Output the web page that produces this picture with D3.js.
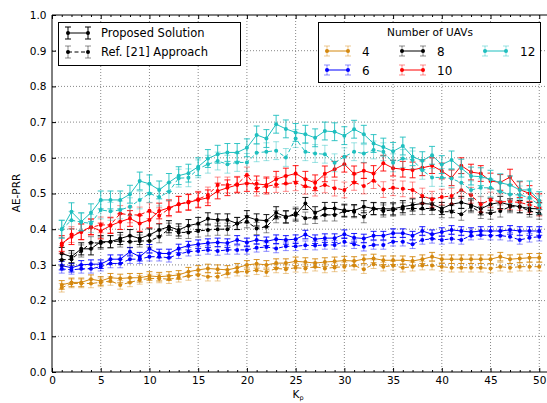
<!DOCTYPE html>
<meta charset="utf-8">
<style>
body { margin: 0; background: #fff; }
svg text { font-family: "DejaVu Sans", sans-serif; fill: #000; }
.grid line { stroke: #888; stroke-dasharray: 1,2; stroke-width: 1; }
.tick line { stroke: #000; }
</style>
<svg width="547" height="403"></svg>
<script src="https://d3js.org/d3.v7.min.js"></script>
<script>
// K_p values on the x axis
var kp = d3.range(1, 51);

var uavCounts = [4, 6, 8, 10, 12];
var colors = ["#d4880f", "#0000ff", "#000000", "#ff0000", "#1fbfbf"];

// AE-PRR, proposed solution (solid) and Ref. [21] (dashed)
var prop4 = [0.244,0.251,0.251,0.260,0.255,0.264,0.262,0.264,0.264,0.269,
  0.267,0.269,0.272,0.281,0.286,0.290,0.288,0.286,0.292,0.300,
  0.303,0.300,0.305,0.305,0.310,0.308,0.305,0.308,0.310,0.312,
  0.311,0.316,0.318,0.313,0.313,0.313,0.311,0.316,0.323,0.316,
  0.316,0.316,0.316,0.316,0.316,0.323,0.316,0.318,0.320,0.320];
var ref4 = [0.236,0.248,0.248,0.248,0.251,0.255,0.244,0.251,0.258,0.262,
  0.262,0.260,0.264,0.269,0.272,0.267,0.267,0.276,0.281,0.281,
  0.285,0.280,0.290,0.288,0.292,0.290,0.295,0.290,0.293,0.295,
  0.298,0.288,0.302,0.295,0.298,0.292,0.295,0.298,0.298,0.295,
  0.292,0.292,0.292,0.292,0.290,0.295,0.292,0.295,0.295,0.295];

var prop6 = [0.298,0.292,0.300,0.302,0.302,0.316,0.316,0.337,0.323,0.345,
  0.332,0.332,0.346,0.354,0.358,0.361,0.363,0.361,0.370,0.363,
  0.370,0.366,0.372,0.370,0.372,0.385,0.372,0.375,0.375,0.386,
  0.376,0.374,0.382,0.382,0.389,0.389,0.382,0.395,0.386,0.392,
  0.398,0.395,0.392,0.395,0.395,0.395,0.398,0.395,0.395,0.395];
var ref6 = [0.289,0.286,0.289,0.289,0.295,0.304,0.304,0.316,0.316,0.323,
  0.323,0.320,0.330,0.337,0.339,0.342,0.339,0.342,0.342,0.342,
  0.348,0.350,0.346,0.352,0.352,0.355,0.354,0.356,0.356,0.365,
  0.358,0.351,0.356,0.356,0.365,0.365,0.358,0.370,0.373,0.370,
  0.373,0.370,0.382,0.384,0.382,0.382,0.379,0.370,0.376,0.379];

var prop8 = [0.332,0.323,0.345,0.345,0.365,0.365,0.374,0.382,0.374,0.384,
  0.398,0.407,0.398,0.410,0.416,0.429,0.426,0.426,0.416,0.435,
  0.426,0.424,0.446,0.435,0.440,0.472,0.446,0.458,0.458,0.453,
  0.452,0.463,0.458,0.457,0.457,0.463,0.468,0.472,0.470,0.458,
  0.470,0.475,0.468,0.457,0.470,0.475,0.468,0.463,0.458,0.457];
var ref8 = [0.314,0.316,0.339,0.362,0.361,0.365,0.367,0.365,0.367,0.367,
  0.379,0.400,0.391,0.391,0.395,0.398,0.400,0.400,0.416,0.421,
  0.402,0.407,0.435,0.433,0.445,0.431,0.433,0.440,0.440,0.450,
  0.449,0.435,0.457,0.451,0.454,0.457,0.458,0.458,0.458,0.449,
  0.449,0.442,0.463,0.447,0.445,0.451,0.463,0.463,0.451,0.445];

var prop10 = [0.360,0.379,0.393,0.407,0.395,0.410,0.421,0.430,0.416,0.426,
  0.451,0.460,0.470,0.475,0.482,0.488,0.507,0.516,0.524,0.528,
  0.527,0.524,0.540,0.549,0.556,0.540,0.530,0.555,0.568,0.582,
  0.555,0.564,0.556,0.585,0.571,0.568,0.566,0.572,0.578,0.563,
  0.544,0.578,0.560,0.556,0.535,0.531,0.546,0.511,0.500,0.477];
var ref10 = [0.355,0.385,0.392,0.405,0.412,0.412,0.444,0.440,0.440,0.452,
  0.438,0.457,0.470,0.477,0.484,0.496,0.524,0.524,0.526,0.552,
  0.515,0.520,0.525,0.528,0.530,0.520,0.515,0.524,0.515,0.510,
  0.531,0.521,0.536,0.511,0.516,0.513,0.510,0.493,0.484,0.490,
  0.493,0.509,0.495,0.470,0.482,0.477,0.477,0.475,0.468,0.459];

var prop12 = [0.400,0.449,0.421,0.446,0.482,0.482,0.482,0.498,0.535,0.527,
  0.510,0.531,0.550,0.557,0.575,0.598,0.610,0.615,0.615,0.628,
  0.664,0.654,0.694,0.681,0.671,0.666,0.656,0.675,0.673,0.662,
  0.680,0.666,0.640,0.630,0.618,0.633,0.603,0.592,0.607,0.581,
  0.594,0.571,0.549,0.547,0.540,0.530,0.524,0.510,0.510,0.480];
var ref12 = [0.400,0.425,0.420,0.416,0.454,0.450,0.454,0.463,0.482,0.500,
  0.490,0.505,0.543,0.544,0.569,0.582,0.591,0.582,0.587,0.587,
  0.614,0.617,0.620,0.601,0.654,0.617,0.612,0.610,0.586,0.603,
  0.617,0.612,0.622,0.617,0.586,0.598,0.594,0.565,0.545,0.545,
  0.542,0.530,0.510,0.516,0.516,0.505,0.497,0.496,0.488,0.468];

// error bar half-width per number of UAVs
var errHalf = [0.012, 0.012, 0.017, 0.022, 0.025];

var proposed = [prop4, prop6, prop8, prop10, prop12];
var reference = [ref4, ref6, ref8, ref10, ref12];

var svg = d3.select("svg");
var pLeft = 52, pRight = 549, pTop = 15, pBottom = 372;

var x = d3.scaleLinear().domain([0, 51]).range([pLeft, pRight]);
var y = d3.scaleLinear().domain([0, 1]).range([pBottom, pTop]);

// grid
var grid = svg.append("g").attr("class", "grid");
grid.selectAll(".gx").data(d3.range(5, 51, 5)).enter().append("line")
  .attr("x1", d => x(d)).attr("x2", d => x(d)).attr("y1", pTop).attr("y2", pBottom);
grid.selectAll(".gy").data(d3.range(1, 10).map(d => d / 10)).enter().append("line")
  .attr("x1", pLeft).attr("x2", pRight).attr("y1", d => y(d)).attr("y2", d => y(d));

// axes
var minorVals = d3.range(0, 52).filter(d => d % 5);
svg.append("g").attr("transform", "translate(0," + pBottom + ")")
  .call(d3.axisBottom(x).tickValues(d3.range(0, 51, 5)).tickSize(-4).tickPadding(4.5));
svg.append("g").attr("transform", "translate(0," + pBottom + ")")
  .call(d3.axisBottom(x).tickValues(minorVals).tickSize(-2).tickFormat(""));
svg.append("g").attr("transform", "translate(0," + pTop + ")")
  .call(d3.axisTop(x).tickValues(d3.range(0, 51, 5)).tickSize(-4).tickFormat(""));
svg.append("g").attr("transform", "translate(0," + pTop + ")")
  .call(d3.axisTop(x).tickValues(minorVals).tickSize(-2).tickFormat(""));
svg.append("g").attr("transform", "translate(" + pLeft + ",0)")
  .call(d3.axisLeft(y).tickValues(d3.range(0, 11).map(d => d / 10)).tickSize(-4).tickPadding(5.5)
    .tickFormat(d3.format(".1f")));
svg.selectAll(".domain").remove();
svg.selectAll(".tick text").style("font-size", "10.5px").style("font-family", "'DejaVu Sans', sans-serif");

// frame
svg.append("path")
  .attr("d", "M" + pRight + "," + pTop + "H" + pLeft + "V" + pBottom + "H" + pRight)
  .attr("fill", "none").attr("stroke", "#000").attr("stroke-width", 1);

// series
var line = d3.line().x((d, i) => x(kp[i])).y(d => y(d));

function drawSeries(vals, color, err, dashed) {
  var g = svg.append("g");
  var eb = g.append("g").attr("stroke", color).attr("stroke-width", 1)
    .attr("stroke-opacity", dashed ? 0.45 : 0.9);
  vals.forEach(function(v, i) {
    var cx = x(kp[i]), y0 = y(v - err), y1 = y(v + err);
    eb.append("line").attr("x1", cx).attr("x2", cx).attr("y1", y0).attr("y2", y1);
    eb.append("line").attr("x1", cx - 3).attr("x2", cx + 3).attr("y1", y0).attr("y2", y0);
    eb.append("line").attr("x1", cx - 3).attr("x2", cx + 3).attr("y1", y1).attr("y2", y1);
  });
  g.append("path").datum(vals).attr("d", line)
    .attr("fill", "none").attr("stroke", color).attr("stroke-width", 1)
    .attr("stroke-dasharray", dashed ? "4,2.5" : null);
  g.selectAll("circle").data(vals).enter().append("circle")
    .attr("cx", (d, i) => x(kp[i])).attr("cy", d => y(d)).attr("r", 2)
    .attr("fill", color);
}

uavCounts.forEach(function(n, j) {
  drawSeries(proposed[j], colors[j], errHalf[j], false);
  drawSeries(reference[j], colors[j], errHalf[j], true);
});

// legend handle
function handle(g, x0, x1, cy, color, dashed, capOpacity, h) {
  var e = g.append("g").attr("stroke", color).attr("stroke-opacity", capOpacity);
  [x0, x1].forEach(function(cx) {
    e.append("line").attr("x1", cx).attr("x2", cx).attr("y1", cy - h).attr("y2", cy + h);
    e.append("line").attr("x1", cx - 3).attr("x2", cx + 3).attr("y1", cy - h).attr("y2", cy - h);
    e.append("line").attr("x1", cx - 3).attr("x2", cx + 3).attr("y1", cy + h).attr("y2", cy + h);
  });
  g.append("line").attr("x1", x0).attr("x2", x1).attr("y1", cy).attr("y2", cy)
    .attr("stroke", color).attr("stroke-dasharray", dashed ? "4,2.5" : null);
  [x0, x1].forEach(function(cx) {
    g.append("circle").attr("cx", cx).attr("cy", cy).attr("r", 2).attr("fill", color);
  });
}

// legend 1: methods
var lg1 = svg.append("g");
lg1.append("rect").attr("x", 58.5).attr("y", 22.5).attr("width", 182).attr("height", 43)
  .attr("fill", "#fff").attr("stroke", "#000");
handle(lg1, 68, 88, 33, "#000", false, 1, 6);
handle(lg1, 68, 88, 52, "#000", true, 0.45, 6);
lg1.append("text").attr("x", 101).attr("y", 37).style("font-size", "11.5px").text("Proposed Solution");
lg1.append("text").attr("x", 101).attr("y", 56).style("font-size", "11.5px").text("Ref. [21] Approach");

// legend 2: number of UAVs
var lg2 = svg.append("g");
lg2.append("rect").attr("x", 318.5).attr("y", 22.5).attr("width", 222).attr("height", 60)
  .attr("fill", "#fff").attr("stroke", "#000");
lg2.append("text").attr("x", 430).attr("y", 36).attr("text-anchor", "middle")
  .style("font-size", "10.5px").text("Number of UAVs");
var legPos = [[327, 51], [327, 70], [402, 51], [402, 70], [485, 51]];
uavCounts.forEach(function(n, j) {
  var p = legPos[j];
  handle(lg2, p[0], p[0] + 21, p[1], colors[j], false, 0.45, 5);
  lg2.append("text").attr("x", p[0] + 35).attr("y", p[1] + 4.5)
    .style("font-size", "12px").text(n);
});

// axis labels
svg.append("text").attr("x", 298).attr("y", 398).attr("text-anchor", "middle")
  .style("font-size", "10.5px")
  .html('K<tspan dy="2" style="font-size:6.5px">p</tspan>');
svg.append("text").attr("transform", "translate(20,193) rotate(-90)")
  .attr("text-anchor", "middle").style("font-size", "10.5px").text("AE-PRR");
</script>
